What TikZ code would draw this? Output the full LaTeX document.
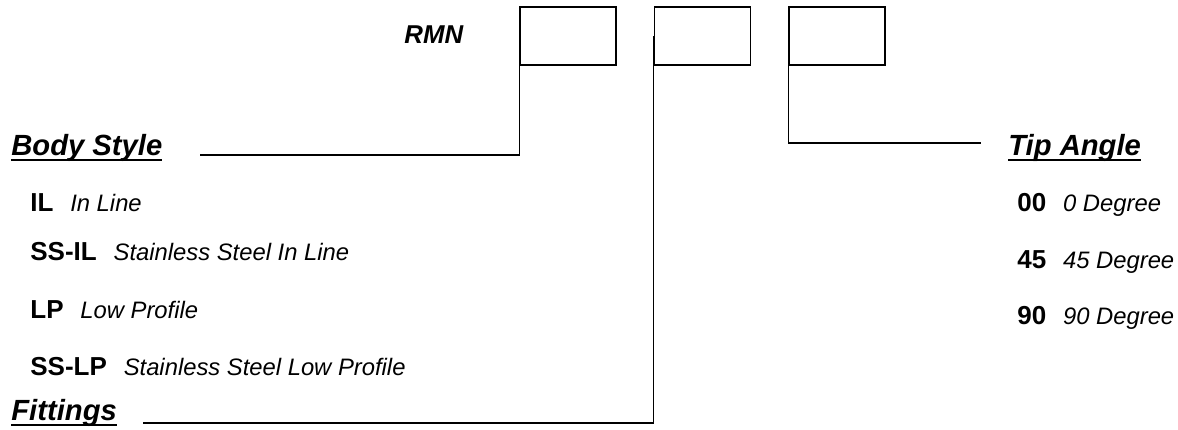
\documentclass[tikz,border=0pt]{standalone}
\usepackage{fontspec}
\setmainfont{Liberation Sans}
\usepackage{tikz}
\usetikzlibrary{positioning}
\newcommand{\headul}[1]{\setbox0\hbox{#1}\rlap{\rule[-3.1pt]{\wd0}{1.2pt}}\box0}

\begin{document}
\begin{tikzpicture}[x=0.5pt,y=-0.5pt,
		every node/.style={inner sep=0pt,anchor=base west},
		slot/.style={draw,line width=0.85pt,minimum width=48pt,minimum height=29pt,anchor=center},
		head/.style={font=\fontsize{14.6}{16}\selectfont\bfseries\itshape},
		code/.style={font=\fontsize{13}{15}\selectfont\bfseries},
		desc/.style={font=\fontsize{11.9}{14}\selectfont\itshape},
		lead/.style={line width=0.65pt}]
		\useasboundingbox (0,0) rectangle (1178,429);
		\node (R) [font=\fontsize{12.9}{14}\selectfont\bfseries\itshape] at (404,43) {RMN};
		\node (S1) [slot] at (568,36) {};
		\node (S2) [slot] at (702.5,36) {};
		\node (S3) [slot] at (837,36) {};
		% left column
		\node (BS) [head] at (11,155) {\headul{Body Style}};
		\node (IL) [code] at (30,211) {IL};
		\node (ILd) [desc, base right=8pt of IL] {In Line};
		\node (SSIL) [code] at (30,260) {SS-IL};
		\node (SSILd) [desc, base right=8pt of SSIL] {Stainless Steel In Line};
		\node (LP) [code] at (30,318) {LP};
		\node (LPd) [desc, base right=8pt of LP] {Low Profile};
		\node (SSLP) [code] at (30,375) {SS-LP};
		\node (SSLPd) [desc, base right=8pt of SSLP] {Stainless Steel Low Profile};
		\node (FT) [head] at (11,420) {\headul{Fittings}};
		% right column
		\node (TA) [head] at (1008,155) {\headul{Tip Angle}};
		\node (A0) [code] at (1017,211) {00};
		\node (A0d) [desc, base right=8pt of A0] {0 Degree};
		\node (A45) [code] at (1017,268) {45};
		\node (A45d) [desc, base right=8pt of A45] {45 Degree};
		\node (A90) [code] at (1017,324) {90};
		\node (A90d) [desc, base right=8pt of A90] {90 Degree};
		% leaders
		\coordinate (BSend) at (200,155);
		\coordinate (FTend) at (143,423);
		\coordinate (TAend) at (981,143);
		\draw [lead] (S1.west) |- (BSend);
		\draw [lead] (S2.west) |- (FTend);
		\draw [lead] (S3.west) |- (TAend);
		\end{tikzpicture}
\end{document}
